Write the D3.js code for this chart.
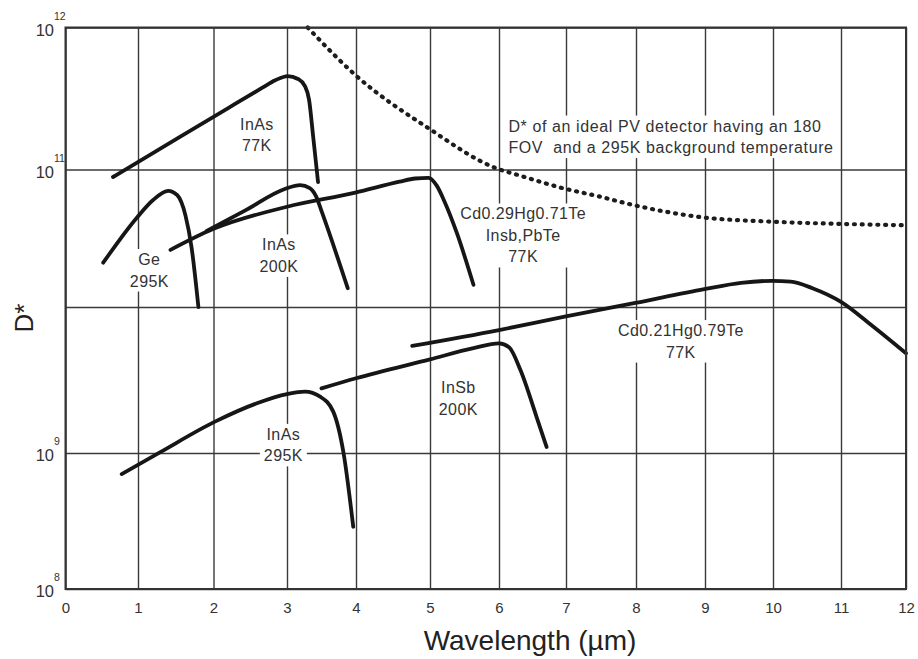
<!DOCTYPE html>
<html>
<head>
<meta charset="utf-8">
<script src="https://cdn.jsdelivr.net/npm/d3@7"></script>
<style>
  html, body { margin: 0; padding: 0; background: #fff; }
  svg { display: block; font-family: "Liberation Sans", Arial, Helvetica, sans-serif; }
</style>
</head>
<body>
<svg id="chart" width="918" height="659"></svg>
<script>
// Axis ticks
const wavelengthTicks = [0, 1, 2, 3, 4, 5, 6, 7, 8, 9, 10, 11, 12];
const decadeTicks = [1e8, 1e9, 1e10, 1e11, 1e12];
const labelledExponents = [12, 11, 9, 8];

// Detectivity curves: [wavelength (µm), D*]
const inAs77K = [[0.655, 8.82e10], [1.5, 1.63e11], [2.2, 2.71e11], [2.66, 3.75e11], [2.84, 4.25e11],
  [3.01, 4.55e11], [3.16, 4.34e11], [3.26, 3.87e11], [3.32, 3.09e11], [3.38, 1.69e11], [3.45, 8.1e10]];
const ge295K = [[0.52, 2.1e10], [0.99, 4.5e10], [1.2, 6.0e10], [1.4, 7.0e10], [1.52, 6.5e10],
  [1.63, 4.6e10], [1.71, 2.7e10], [1.8, 1.0e10]];
const inAs200K = [[1.91, 3.57e10], [2.44, 5.07e10], [2.97, 7.21e10], [3.19, 7.7e10], [3.33, 7.33e10],
  [3.42, 6.41e10], [3.51, 4.83e10], [3.88, 1.37e10]];
const cd029Hg071Te = [[1.43, 2.6e10], [2.0, 3.7e10], [3.0, 5.36e10], [3.99, 6.78e10], [4.59, 8.15e10],
  [4.8, 8.6e10], [4.98, 8.7e10], [5.1, 7.6e10], [5.2, 6.0e10], [5.39, 3.44e10], [5.63, 1.45e10]];
const inAs295K = [[0.775, 7.0e8], [1.29, 1.01e9], [2.02, 1.64e9], [2.59, 2.19e9], [3.0, 2.53e9],
  [3.26, 2.63e9], [3.48, 2.43e9], [3.67, 1.92e9], [3.82, 9.95e8], [3.96, 2.87e8]];
const inSb200K = [[3.5, 2.77e9], [4.0, 3.25e9], [5.0, 4.38e9], [5.63, 5.22e9], [6.0, 5.64e9],
  [6.15, 5.3e9], [6.32, 3.7e9], [6.56, 1.77e9], [6.71, 1.1e9]];
const cd021Hg079Te = [[4.76, 5.41e9], [6.0, 6.95e9], [6.98, 8.58e9], [7.99, 1.07e10], [8.99, 1.35e10],
  [9.53, 1.5e10], [9.99, 1.55e10], [10.26, 1.53e10], [10.58, 1.37e10], [11.0, 1.09e10],
  [11.47, 7.5e9], [12.0, 4.82e9]];
// Background-limited ideal photovoltaic detector, 180° FOV, 295 K background
const idealPV = [[3.3, 1.0e12], [3.99, 4.63e11], [4.98, 1.95e11], [5.96, 1.02e11], [6.29, 9.1e10],
  [6.96, 7.3e10], [7.49, 6.34e10], [7.96, 5.52e10], [8.96, 4.49e10], [10.0, 4.17e10],
  [11.0, 4.02e10], [12.0, 3.93e10]];

const solidCurves = [inAs77K, ge295K, inAs200K, cd029Hg071Te, inAs295K, inSb200K, cd021Hg079Te];

// Curve labels, anchored at (wavelength, D*) of the first line's baseline centre
const curveLabels = [
  { lines: ["InAs", "77K"], wavelength: 2.59, dstar: 1.9e11 },
  { lines: ["Ge", "295K"], wavelength: 1.15, dstar: 2.02e10 },
  { lines: ["InAs", "200K"], wavelength: 2.89, dstar: 2.58e10 },
  { lines: ["Cd0.29Hg0.71Te", "Insb,PbTe", "77K"], wavelength: 6.36, dstar: 4.33e10 },
  { lines: ["Cd0.21Hg0.79Te", "77K"], wavelength: 8.65, dstar: 6.32e9 },
  { lines: ["InSb", "200K"], wavelength: 5.41, dstar: 2.56e9 },
  { lines: ["InAs", "295K"], wavelength: 2.95, dstar: 1.23e9 }
];
const idealNote = {
  lines: ["D* of an ideal PV detector having an 180", "FOV  and a 295K background temperature"],
  wavelength: 6.14, dstar: 1.85e11
};

const svg = d3.select("#chart");
const plotLeft = 65.5, plotRight = 906, plotTop = 27.5, plotBottom = 589;

// The grid is ruled unevenly, so every gridline gets its own stop.
const x = d3.scaleLinear()
  .domain(wavelengthTicks)
  .range([65.5, 138, 213.5, 287, 356, 430, 499, 566, 636, 705, 773, 841, 906]);
const y = d3.scaleLog()
  .domain(decadeTicks)
  .range([589, 453, 307, 169.5, 27.5]);

svg.append("rect").attr("width", 918).attr("height", 659).attr("fill", "#fff");

// Vertical gridlines + wavelength tick labels
const xAxis = svg.append("g")
  .attr("transform", `translate(0,${plotBottom})`)
  .call(d3.axisBottom(x).tickValues(wavelengthTicks).tickSize(-(plotBottom - plotTop))
    .tickPadding(13).tickFormat(d3.format("d")));
xAxis.select(".domain").remove();
xAxis.selectAll(".tick line").attr("stroke", "#3a3a3a").attr("stroke-width", 1.4);
xAxis.selectAll(".tick text").attr("font-size", 15).attr("fill", "#333")
  .attr("font-family", "Liberation Sans, Arial, sans-serif");

// Horizontal gridlines
const yAxis = svg.append("g")
  .attr("transform", `translate(${plotLeft},0)`)
  .call(d3.axisLeft(y).tickValues(decadeTicks).tickSize(-(plotRight - plotLeft)).tickFormat(""));
yAxis.select(".domain").remove();
yAxis.selectAll(".tick line").attr("stroke", "#3a3a3a").attr("stroke-width", 1.4);
yAxis.selectAll(".tick text").remove();

// Decade labels 10^n
const decadeLabels = svg.append("g").attr("fill", "#333");
labelledExponents.forEach(e => {
  const yy = y(Math.pow(10, e));
  decadeLabels.append("text")
    .attr("x", 54).attr("y", yy + 8)
    .attr("text-anchor", "end").attr("font-size", 16.5)
    .text("10");
  decadeLabels.append("text")
    .attr("x", 54).attr("y", yy - 8)
    .attr("font-size", 10.5)
    .text(e);
});

// Label layer (white backing boxes break the grid behind the text)
const backLayer = svg.append("g");
const curveLayer = svg.append("g");
const textLayer = svg.append("g");

const lineHeight = 21.5;
function addLabel(label, anchor, fontSize, spacing) {
  const t = textLayer.append("text")
    .attr("font-size", fontSize)
    .attr("fill", "#333")
    .attr("letter-spacing", spacing)
    .attr("text-anchor", anchor)
    .style("white-space", "pre");
  label.lines.forEach((ln, i) => {
    t.append("tspan")
      .attr("x", x(label.wavelength))
      .attr("y", y(label.dstar) + i * lineHeight)
      .text(ln);
  });
  const b = t.node().getBBox();
  backLayer.append("rect")
    .attr("x", b.x - 4).attr("y", b.y - 2)
    .attr("width", b.width + 8).attr("height", b.height + 4)
    .attr("fill", "#fff");
}
curveLabels.forEach(l => addLabel(l, "middle", 16, 0.4));
addLabel(idealNote, "start", 16, 0.6);

const line = d3.line()
  .x(d => x(d[0]))
  .y(d => y(d[1]))
  .curve(d3.curveMonotoneX);

curveLayer.selectAll("path.curve")
  .data(solidCurves)
  .join("path")
  .attr("class", "curve")
  .attr("d", line)
  .attr("fill", "none")
  .attr("stroke", "#161616")
  .attr("stroke-width", 3.8)
  .attr("stroke-linecap", "round")
  .attr("stroke-linejoin", "round");

curveLayer.append("path")
  .datum(idealPV)
  .attr("d", line)
  .attr("fill", "none")
  .attr("stroke", "#1c1c1c")
  .attr("stroke-width", 4.2)
  .attr("stroke-linecap", "round")
  .attr("stroke-dasharray", "1 6.8");

// Plot frame
svg.append("rect")
  .attr("x", plotLeft).attr("y", plotTop)
  .attr("width", plotRight - plotLeft).attr("height", plotBottom - plotTop)
  .attr("fill", "none").attr("stroke", "#333").attr("stroke-width", 2);

// Axis titles
svg.append("text")
  .attr("x", 530).attr("y", 650)
  .attr("text-anchor", "middle")
  .attr("font-size", 28).attr("fill", "#222")
  .text("Wavelength (µm)");

svg.append("text")
  .attr("transform", "translate(33,318) rotate(-90)")
  .attr("text-anchor", "middle")
  .attr("font-size", 26).attr("fill", "#222")
  .text("D*");
</script>
</body>
</html>
